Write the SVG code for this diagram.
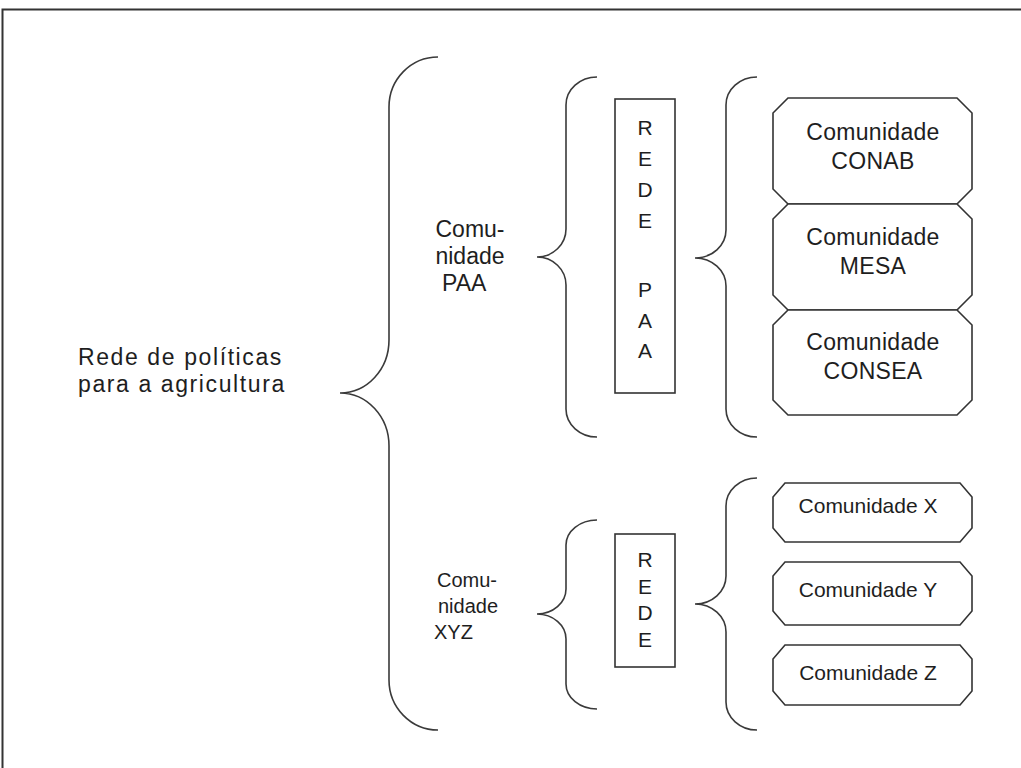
<svg xmlns="http://www.w3.org/2000/svg" width="1021" height="768" viewBox="0 0 1021 768">
<style>
.br{fill:none;stroke:#3a3a3a;stroke-width:1.6}
.bx{fill:#fff;stroke:#333;stroke-width:1.6}
.t{font-family:"Liberation Sans",Arial,sans-serif;fill:#1e1e1e}
.m{text-anchor:middle}
</style>
<rect width="1021" height="768" fill="#fff"/>
<path d="M2.5,768 L2.5,9.5 L1021,9.5" fill="none" stroke="#333" stroke-width="2"/>
<g id="root-label">
<text class="t" x="78" y="365" font-size="23" letter-spacing="1.6">Rede de políticas</text>
<text class="t" x="78" y="392" font-size="23" letter-spacing="1.6">para a agricultura</text>
</g>
<g id="connectors">
<path class="br" d="M438,57 A49,50 0 0 0 389,107 L389,340 A49,53 0 0 1 340,393 A49,53 0 0 1 389,446 L389,680 A49,50 0 0 0 438,730"/>
<path class="br" d="M597,77 A31,28 0 0 0 566,105 L566,229 A29,28 0 0 1 537,257 A29,28 0 0 1 566,285 L566,409 A31,28 0 0 0 597,437"/>
<path class="br" d="M757,77 A31,28 0 0 0 726,105 L726,230 A31,28 0 0 1 695,258 A31,28 0 0 1 726,286 L726,409 A31,28 0 0 0 757,437"/>
<path class="br" d="M597,520 A31,25 0 0 0 566,545 L566,589 A29,25 0 0 1 537,614 A29,25 0 0 1 566,639 L566,684 A31,25 0 0 0 597,709"/>
<path class="br" d="M757,478 A31,28 0 0 0 726,506 L726,576 A31,28 0 0 1 695,604 A31,28 0 0 1 726,632 L726,702 A31,28 0 0 0 757,730"/>
</g>
<g id="comunidade-paa">
<text class="t m" x="470" y="237" font-size="23">Comu-</text>
<text class="t m" x="470" y="264" font-size="23">nidade</text>
<text class="t" x="442" y="291" font-size="23">PAA</text>
</g>
<g id="comunidade-xyz">
<text class="t m" x="467" y="587" font-size="20">Comu-</text>
<text class="t m" x="468" y="613" font-size="20">nidade</text>
<text class="t" x="434" y="639" font-size="20">XYZ</text>
</g>
<g id="rede-paa">
<rect class="bx" x="615" y="99" width="60" height="294"/>
<g class="t m" font-size="21">
<text x="645" y="135">R</text>
<text x="645" y="166">E</text>
<text x="645" y="197">D</text>
<text x="645" y="228">E</text>
<text x="645" y="297">P</text>
<text x="645" y="328">A</text>
<text x="645" y="358">A</text>
</g>
</g>
<g id="rede-xyz">
<rect class="bx" x="615" y="534" width="60" height="133"/>
<g class="t m" font-size="21">
<text x="645" y="567">R</text>
<text x="645" y="594">E</text>
<text x="645" y="620">D</text>
<text x="645" y="647">E</text>
</g>
</g>
<g id="conab">
<polygon class="bx" points="788,98 957,98 972,113 972,189 957,204 788,204 773,189 773,113"/>
<text class="t m" x="873" y="140" font-size="23" letter-spacing="0.3">Comunidade</text>
<text class="t m" x="873" y="169" font-size="23" letter-spacing="0.3">CONAB</text>
</g>
<g id="mesa">
<polygon class="bx" points="788,204 957,204 972,219 972,295 957,310 788,310 773,295 773,219"/>
<text class="t m" x="873" y="245" font-size="23" letter-spacing="0.3">Comunidade</text>
<text class="t m" x="873" y="274" font-size="23" letter-spacing="0.3">MESA</text>
</g>
<g id="consea">
<polygon class="bx" points="788,310 957,310 972,325 972,400 957,415 788,415 773,400 773,325"/>
<text class="t m" x="873" y="350" font-size="23" letter-spacing="0.3">Comunidade</text>
<text class="t m" x="873" y="379" font-size="23" letter-spacing="0.3">CONSEA</text>
</g>
<g id="com-x">
<polygon class="bx" points="785,483 960,483 972,497 972,528 960,542 785,542 773,528 773,497"/>
<text class="t m" x="868" y="513" font-size="21">Comunidade X</text>
</g>
<g id="com-y">
<polygon class="bx" points="785,562 960,562 972,576 972,611 960,625 785,625 773,611 773,576"/>
<text class="t m" x="868" y="597" font-size="21">Comunidade Y</text>
</g>
<g id="com-z">
<polygon class="bx" points="785,645 960,645 972,659 972,691 960,705 785,705 773,691 773,659"/>
<text class="t m" x="868" y="680" font-size="21">Comunidade Z</text>
</g>
</svg>
